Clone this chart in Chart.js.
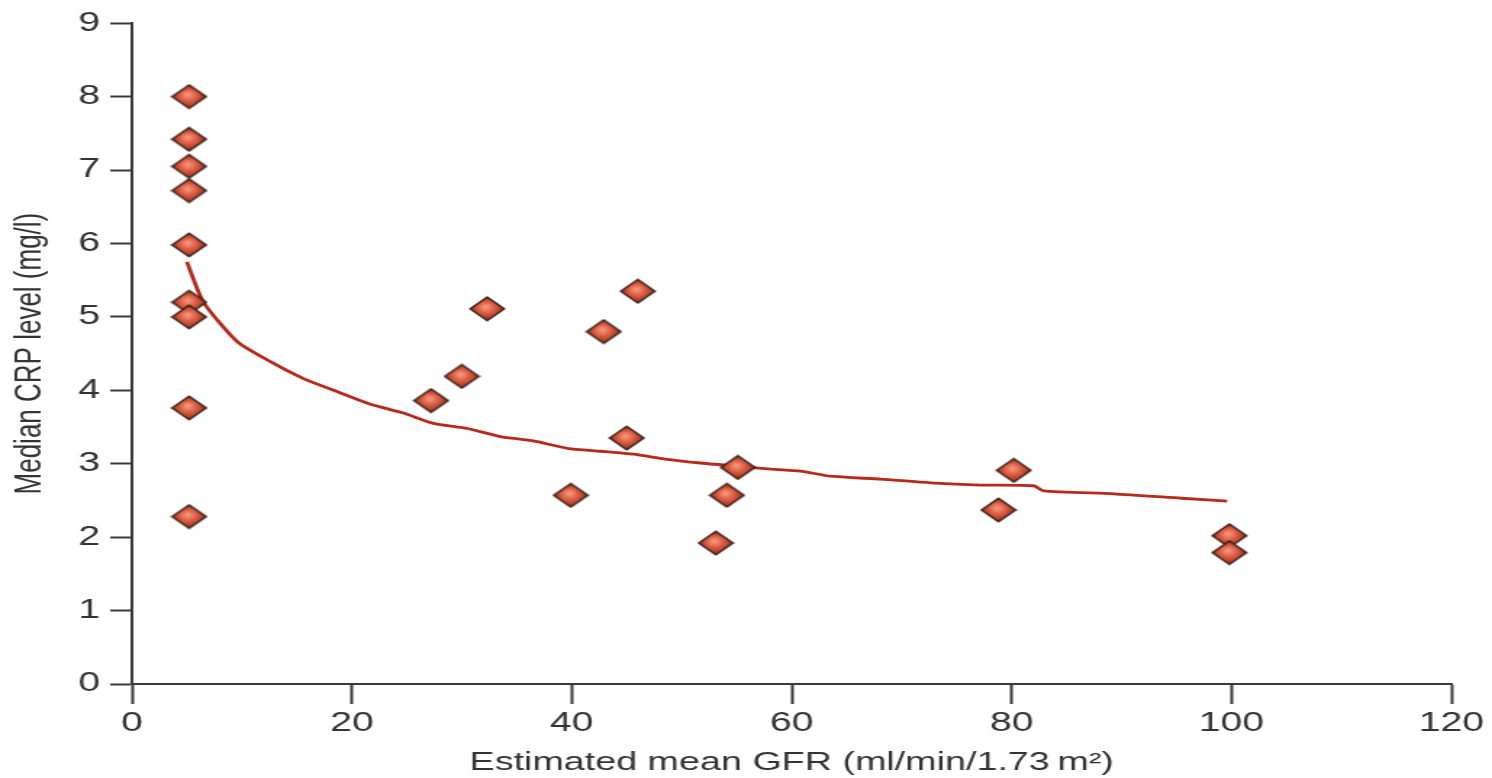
<!DOCTYPE html>
<html>
<head>
<meta charset="utf-8">
<script src="https://cdn.jsdelivr.net/npm/chart.js@4"></script>
<style>
  body { margin: 0; background: #fff; }
  /* drawn narrow then stretched, like the reference picture */
  #crpChart { width: 1492px !important; height: 778px !important; display: block; }
</style>
</head>
<body>
<canvas id="crpChart" width="1029" height="778" style="width:1492px;height:778px"></canvas>
<script>
// points
gfrValues = [5.2, 5.2, 5.2, 5.2, 5.2, 5.2, 5.2, 5.2, 5.2,
  27.2, 30.0, 32.3, 39.9, 42.9, 45.0, 46.0, 53.1, 54.1, 55.1, 78.8, 80.2, 99.8, 99.8];
crpValues = [8.0, 7.42, 7.05, 6.72, 5.98, 5.2, 5.0, 3.76, 2.28,
  3.86, 4.19, 5.11, 2.57, 4.80, 3.35, 5.35, 1.92, 2.57, 2.95, 2.37, 2.91, 2.02, 1.79];

// fitted curve
curveGfr = [5.0, 6.5, 9.6, 12.6, 15.6, 18.7, 21.7, 24.7, 27.4, 30.5, 33.5, 36.5, 39.6,
  42.6, 45.6, 48.7, 51.7, 54.7, 57.8, 60.8, 63.5, 68.1, 72.6, 77.2, 82.0, 82.9, 89.3, 95.4, 99.6];
curveCrp = [5.75, 5.20, 4.66, 4.39, 4.16, 3.98, 3.81, 3.69, 3.55, 3.48, 3.37, 3.31, 3.21,
  3.17, 3.13, 3.06, 3.01, 2.97, 2.93, 2.90, 2.83, 2.79, 2.74, 2.71, 2.70, 2.63, 2.59, 2.53, 2.49];

xTicks = [0, 20, 40, 60, 80, 100, 120];
yTicks = [0, 1, 2, 3, 4, 5, 6, 7, 8, 9];

axisColor = "#3a3a3a";
lineColor = "#b52a1c";

function toPoints(xs, ys) {
  return xs.map((x, i) => ({ x: x, y: ys[i] }));
}

function makeDiamond() {
  const c = document.createElement("canvas");
  c.width = 26;
  c.height = 26;
  const g = c.getContext("2d");
  const grad = g.createRadialGradient(12, 11, 1, 13, 13, 12.5);
  grad.addColorStop(0, "#f59478");
  grad.addColorStop(0.4, "#dc5e43");
  grad.addColorStop(1, "#8a2616");
  g.beginPath();
  g.moveTo(1.2, 13);
  g.lineTo(13, 1.2);
  g.lineTo(24.8, 13);
  g.lineTo(13, 24.8);
  g.closePath();
  g.fillStyle = grad;
  g.fill();
  g.lineWidth = 1.5;
  g.strokeStyle = "#35201a";
  g.stroke();
  return c;
}

function axisSetup(min, max, step, tickLen, pad) {
  return {
    type: "linear",
    min: min,
    max: max,
    grid: {
      drawOnChartArea: false,
      drawTicks: true,
      tickLength: tickLen,
      tickColor: axisColor,
      tickWidth: 2,
    },
    border: { color: axisColor, width: 2 },
    ticks: {
      stepSize: step,
      padding: pad,
      color: "#333",
      font: { family: "Liberation Sans, Arial, sans-serif", size: 27 },
    },
  };
}

xAxis = axisSetup(xTicks[0], xTicks[xTicks.length - 1], xTicks[1] - xTicks[0], 20, 3);
xAxis.position = "bottom";
xAxis.title = {
  display: true,
  text: "Estimated mean GFR (ml/min/1.73\u2009m\u00b2)",
  color: "#333",
  padding: { top: 0, bottom: 0 },
  font: { family: "Liberation Sans, Arial, sans-serif", size: 26 },
};
xAxis.afterFit = (s) => { s.height = 94; };

yAxis = axisSetup(yTicks[0], yTicks[yTicks.length - 1], yTicks[1] - yTicks[0], 15, 7);
yAxis.position = "left";
yAxis.title = {
  display: true,
  text: "Median CRP level (mg/l)",
  color: "#333",
  padding: { top: 5, bottom: 0 },
  font: { family: "Liberation Sans, Arial, sans-serif", size: 26 },
};
yAxis.afterFit = (s) => { s.width = 91; };

crpChartConfig = {
  type: "scatter",
  data: {
    datasets: [
      {
        label: "Median CRP",
        data: toPoints(gfrValues, crpValues),
        pointStyle: makeDiamond(),
        pointRadius: 12,
        order: 1,
      },
      {
        label: "Fit",
        type: "line",
        data: toPoints(curveGfr, curveCrp),
        borderColor: lineColor,
        borderWidth: 2.8,
        pointRadius: 0,
        tension: 0.2,
        fill: false,
        order: 2,
      },
    ],
  },
  options: {
    responsive: false,
    animation: false,
    devicePixelRatio: 1,
    layout: { padding: { top: 20, right: 28, bottom: 0, left: 0 } },
    plugins: {
      legend: { display: false },
      tooltip: { enabled: false },
    },
    scales: { x: xAxis, y: yAxis },
  },
};

crpChart = new Chart(document.getElementById("crpChart"), crpChartConfig);
</script>
</body>
</html>
